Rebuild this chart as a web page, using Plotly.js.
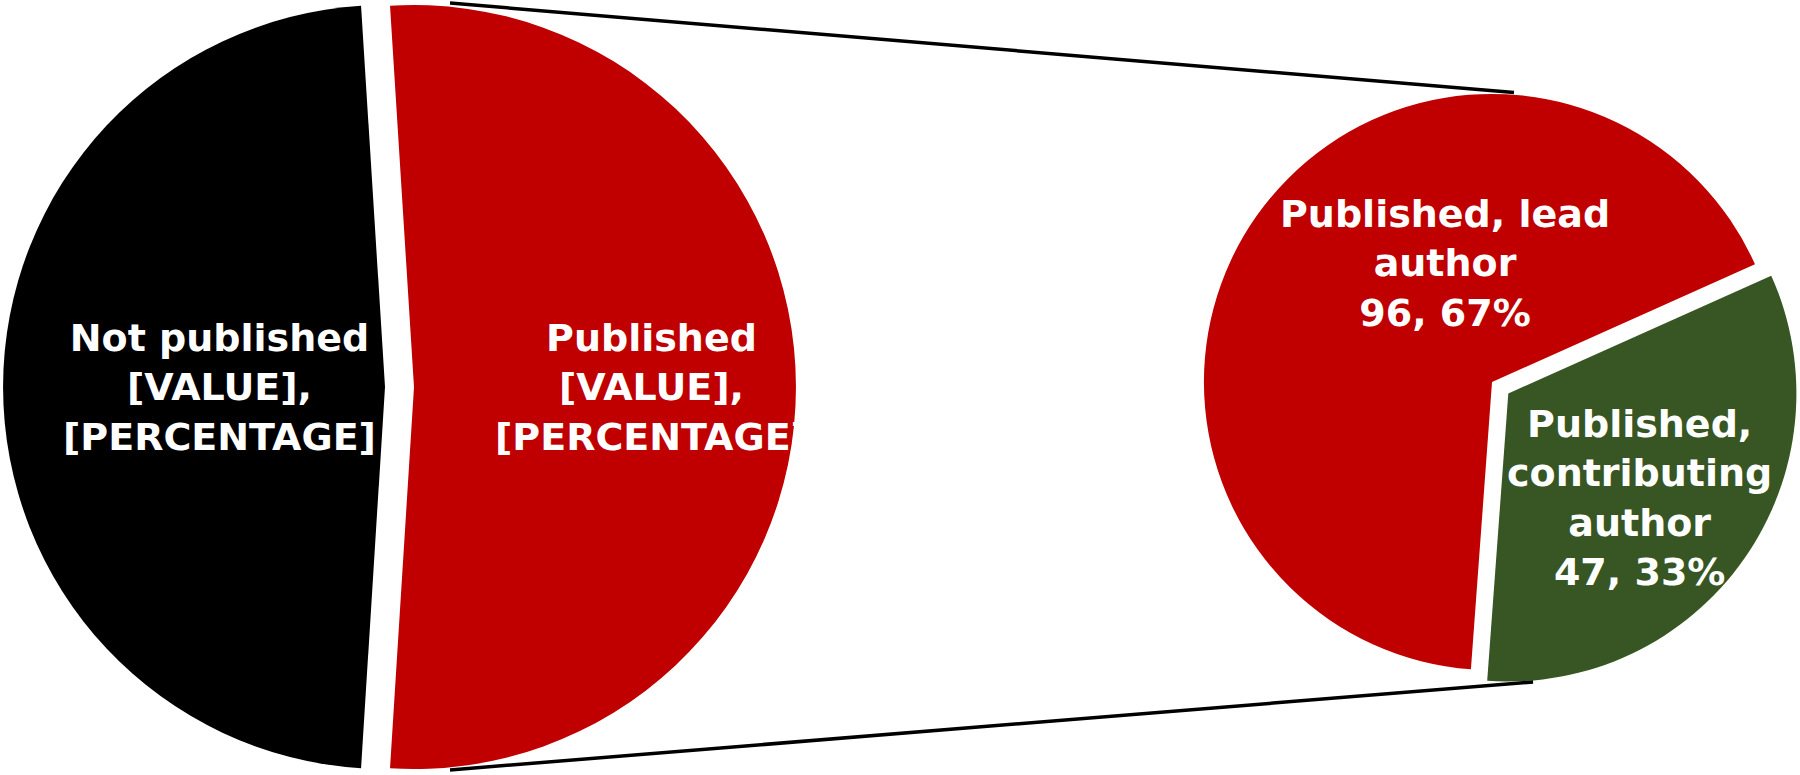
<!DOCTYPE html>
<html>
<head>
<meta charset="utf-8">
<script src="https://cdn.plot.ly/plotly-3.0.1.min.js"></script>
<style>
  html, body { margin: 0; padding: 0; background: #ffffff; }
  #chart { width: 1800px; height: 775px; }
</style>
</head>
<body>
<div id="chart"></div>
<script>
// main pie
var mainLabels = ["Not published", "Published"];
var mainValues = [132, 143];
var mainText = ["Not published<br>[VALUE],<br>[PERCENTAGE]", "Published<br>[VALUE],<br>[PERCENTAGE]"];
var mainColors = ["#000000", "#C00000"];

// breakdown of the published part
var subLabels = ["Published, lead author", "Published, contributing author"];
var subShort = ["Published, lead<br>author", "Published,<br>contributing<br>author"];
var subValues = [96, 47];
var subColors = ["#C00000", "#375623"];

function pct(vals, i) {
  var total = 0;
  for (var k = 0; k < vals.length; k++) total += vals[k];
  return Math.round(vals[i] / total * 100);
}

// the two halves of the main pie are exploded sideways, so each one is
// drawn as its own trace (other slice left transparent) with a shifted domain
var mainDomainsX = [[0.0017, 0.4261], [0.0178, 0.4422]];
var traces = [];
for (var m = 0; m < mainLabels.length; m++) {
  var cols = [];
  for (var c = 0; c < mainColors.length; c++) {
    cols.push(c === m ? mainColors[c] : "rgba(0,0,0,0)");
  }
  traces.push({
    type: "pie",
    name: mainLabels[m],
    labels: mainLabels,
    values: mainValues,
    sort: false,
    direction: "clockwise",
    rotation: 183.6,
    marker: { colors: cols, line: { width: 0 } },
    textinfo: "none",
    domain: { x: mainDomainsX[m], y: [0.0077, 0.9935] }
  });
}

traces.push({
  type: "pie",
  labels: subLabels,
  values: subValues,
  sort: false,
  direction: "clockwise",
  rotation: 184.2,
  pull: [0, 0.069],
  marker: { colors: subColors, line: { width: 0 } },
  textinfo: "none",
  domain: { x: [0.6578, 1], y: [0.1097, 0.9045] }
});

var labelFont = { family: "DejaVu Sans", size: 38, color: "#ffffff", weight: "bold" };

var notes = [];
var mainPos = [[0.1222, 0.5006], [0.3620, 0.5006]];
for (var i = 0; i < mainLabels.length; i++) {
  notes.push({ xref: "paper", yref: "paper", x: mainPos[i][0], y: mainPos[i][1],
    text: mainText[i], showarrow: false, xanchor: "center", yanchor: "middle",
    align: "center", font: labelFont });
}
var subPos = [[0.8025, 0.6594], [0.9111, 0.3574]];
for (var j = 0; j < subLabels.length; j++) {
  notes.push({ xref: "paper", yref: "paper", x: subPos[j][0], y: subPos[j][1],
    text: subShort[j] + "<br>" + subValues[j] + ", " + pct(subValues, j) + "%",
    showarrow: false, xanchor: "center", yanchor: "middle",
    align: "center", font: labelFont });
}

var layout = {
  width: 1800,
  height: 775,
  margin: { l: 0, r: 0, t: 0, b: 0 },
  paper_bgcolor: "#ffffff",
  showlegend: false,
  annotations: notes,
  shapes: [
    { type: "line", xref: "paper", yref: "paper", x0: 0.25, y0: 0.9961, x1: 0.8411, y1: 0.8806,
      line: { color: "#000000", width: 3.5 } },
    { type: "line", xref: "paper", yref: "paper", x0: 0.25, y0: 0.0065, x1: 0.8517, y1: 0.12,
      line: { color: "#000000", width: 3.5 } }
  ]
};

Plotly.newPlot("chart", traces, layout, { displayModeBar: false, staticPlot: true });
</script>
</body>
</html>
